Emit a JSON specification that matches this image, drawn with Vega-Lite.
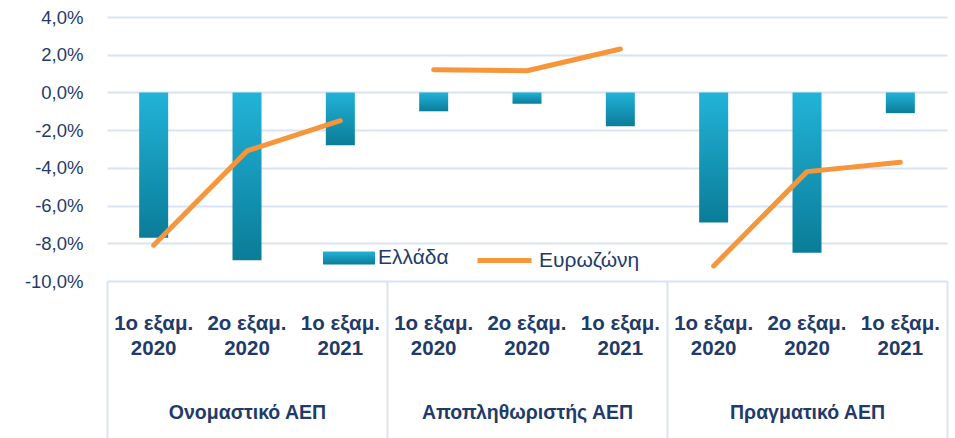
{
  "$schema": "https://vega.github.io/schema/vega-lite/v6.json",
  "autosize": {"type": "none"},
  "width": 840,
  "height": 264,
  "padding": {"left": 107, "top": 17, "right": 8, "bottom": 157},
  "background": "white",
  "config": {
    "view": {"stroke": null},
    "font": "Liberation Sans",
    "axis": {"labelOverlap": false},
    "axisY": {"labelOverlap": false},
    "locale": {"number": {"decimal": ",", "thousands": ".", "grouping": [3], "currency": ["", " €"], "minus": "-"}}
  },
  "data": {
    "values": [
      {"group": "Ονομαστικό ΑΕΠ", "key": "Ον_1ο εξαμ._2020", "greece": -0.077, "euro": -0.081},
      {"group": "Ονομαστικό ΑΕΠ", "key": "Ον_2ο εξαμ._2020", "greece": -0.089, "euro": -0.031},
      {"group": "Ονομαστικό ΑΕΠ", "key": "Ον_1ο εξαμ._2021", "greece": -0.028, "euro": -0.015},
      {"group": "Αποπληθωριστής ΑΕΠ", "key": "Απ_1ο εξαμ._2020", "greece": -0.010, "euro": 0.012},
      {"group": "Αποπληθωριστής ΑΕΠ", "key": "Απ_2ο εξαμ._2020", "greece": -0.006, "euro": 0.0115},
      {"group": "Αποπληθωριστής ΑΕΠ", "key": "Απ_1ο εξαμ._2021", "greece": -0.018, "euro": 0.023},
      {"group": "Πραγματικό ΑΕΠ", "key": "Πρ_1ο εξαμ._2020", "greece": -0.069, "euro": -0.092},
      {"group": "Πραγματικό ΑΕΠ", "key": "Πρ_2ο εξαμ._2020", "greece": -0.085, "euro": -0.042},
      {"group": "Πραγματικό ΑΕΠ", "key": "Πρ_1ο εξαμ._2021", "greece": -0.011, "euro": -0.037}
    ]
  },
  "layer": [
    {
      "layer": [
        {
          "mark": {"type": "bar", "width": 29},
          "encoding": {
            "x": {
              "field": "key", "type": "nominal", "sort": null,
              "scale": {"paddingInner": 0, "paddingOuter": 0},
              "axis": {
                "orient": "bottom", "title": null, "ticks": false, "domain": false, "grid": false,
                "labelAngle": 0, "labelLimit": 0,
                "labelExpr": "[split(datum.label,'_')[1], split(datum.label,'_')[2]]",
                "labelFontSize": 20.5, "labelFontWeight": "bold", "labelColor": "#1F3B6A",
                "labelLineHeight": 25, "labelPadding": 32, "labelBaseline": "top"
              }
            },
            "y": {
              "field": "greece", "type": "quantitative",
              "scale": {"domain": [-0.10, 0.04], "nice": false, "zero": false},
              "axis": {
                "title": null, "format": ".1%",
                "values": [-0.10, -0.08, -0.06, -0.04, -0.02, 0, 0.02, 0.04],
                "labelOverlap": false,
                "ticks": false, "domain": false, "grid": true,
                "gridColor": "#D9E3F3", "gridWidth": 2,
                "labelFontSize": 18.5, "labelColor": "#1F3B6A", "labelPadding": 24
              }
            },
            "fill": {
              "datum": "Ελλάδα", "type": "nominal",
              "scale": {"range": [{"expr": "{gradient: 'linear', x1: 0, y1: 0, x2: 0, y2: 1, stops: [{offset: 0, color: '#22B3D8'}, {offset: 1, color: '#0A7C98'}]}"}]},
              "legend": {
                "title": null, "orient": "none", "legendX": 229, "legendY": 228,
                "symbolType": "M-2,-0.5H2V0.5H-2Z", "symbolSize": 676, "symbolStrokeWidth": 0,
                "labelFontSize": 21, "labelColor": "#1F3B6A", "labelOffset": 16
              }
            }
          }
        },
        {
          "mark": {"type": "line", "strokeWidth": 5, "strokeCap": "round", "strokeJoin": "round"},
          "encoding": {
            "x": {"field": "key", "type": "nominal", "sort": null},
            "y": {
              "field": "euro", "type": "quantitative",
              "axis": {
                "title": null, "format": ".1%",
                "values": [-0.10, -0.08, -0.06, -0.04, -0.02, 0, 0.02, 0.04],
                "labelOverlap": false,
                "ticks": false, "domain": false, "grid": true,
                "gridColor": "#D9E3F3", "gridWidth": 2,
                "labelFontSize": 18.5, "labelColor": "#1F3B6A", "labelPadding": 24
              }
            },
            "detail": {"field": "group"},
            "stroke": {
              "datum": "Ευρωζώνη", "type": "nominal",
              "scale": {"range": ["#F7953B"]},
              "legend": {
                "title": null, "orient": "none", "legendX": 368, "legendY": 214,
                "symbolType": "stroke", "symbolSize": 2916, "symbolStrokeWidth": 5,
                "labelFontSize": 21, "labelColor": "#1F3B6A", "labelOffset": 5
              }
            }
          }
        }
      ]
    },
    {
      "mark": {"type": "point", "opacity": 0},
      "encoding": {
        "x": {
          "field": "group", "type": "nominal", "sort": null,
          "scale": {"paddingInner": 0, "paddingOuter": 0},
          "axis": {
            "orient": "bottom", "title": null, "domain": false, "grid": false,
            "ticks": true, "tickBand": "extent", "tickSize": 165, "tickColor": "#D9E3F3", "tickWidth": 2,
            "labelAngle": 0, "labelLimit": 0, "labelFontSize": 19.5, "labelFontWeight": "bold", "labelColor": "#1F3B6A",
            "labelBaseline": "middle", "labelPadding": -34
          }
        }
      }
    }
  ],
  "resolve": {"scale": {"x": "independent"}, "axis": {"x": "independent"}}
}
